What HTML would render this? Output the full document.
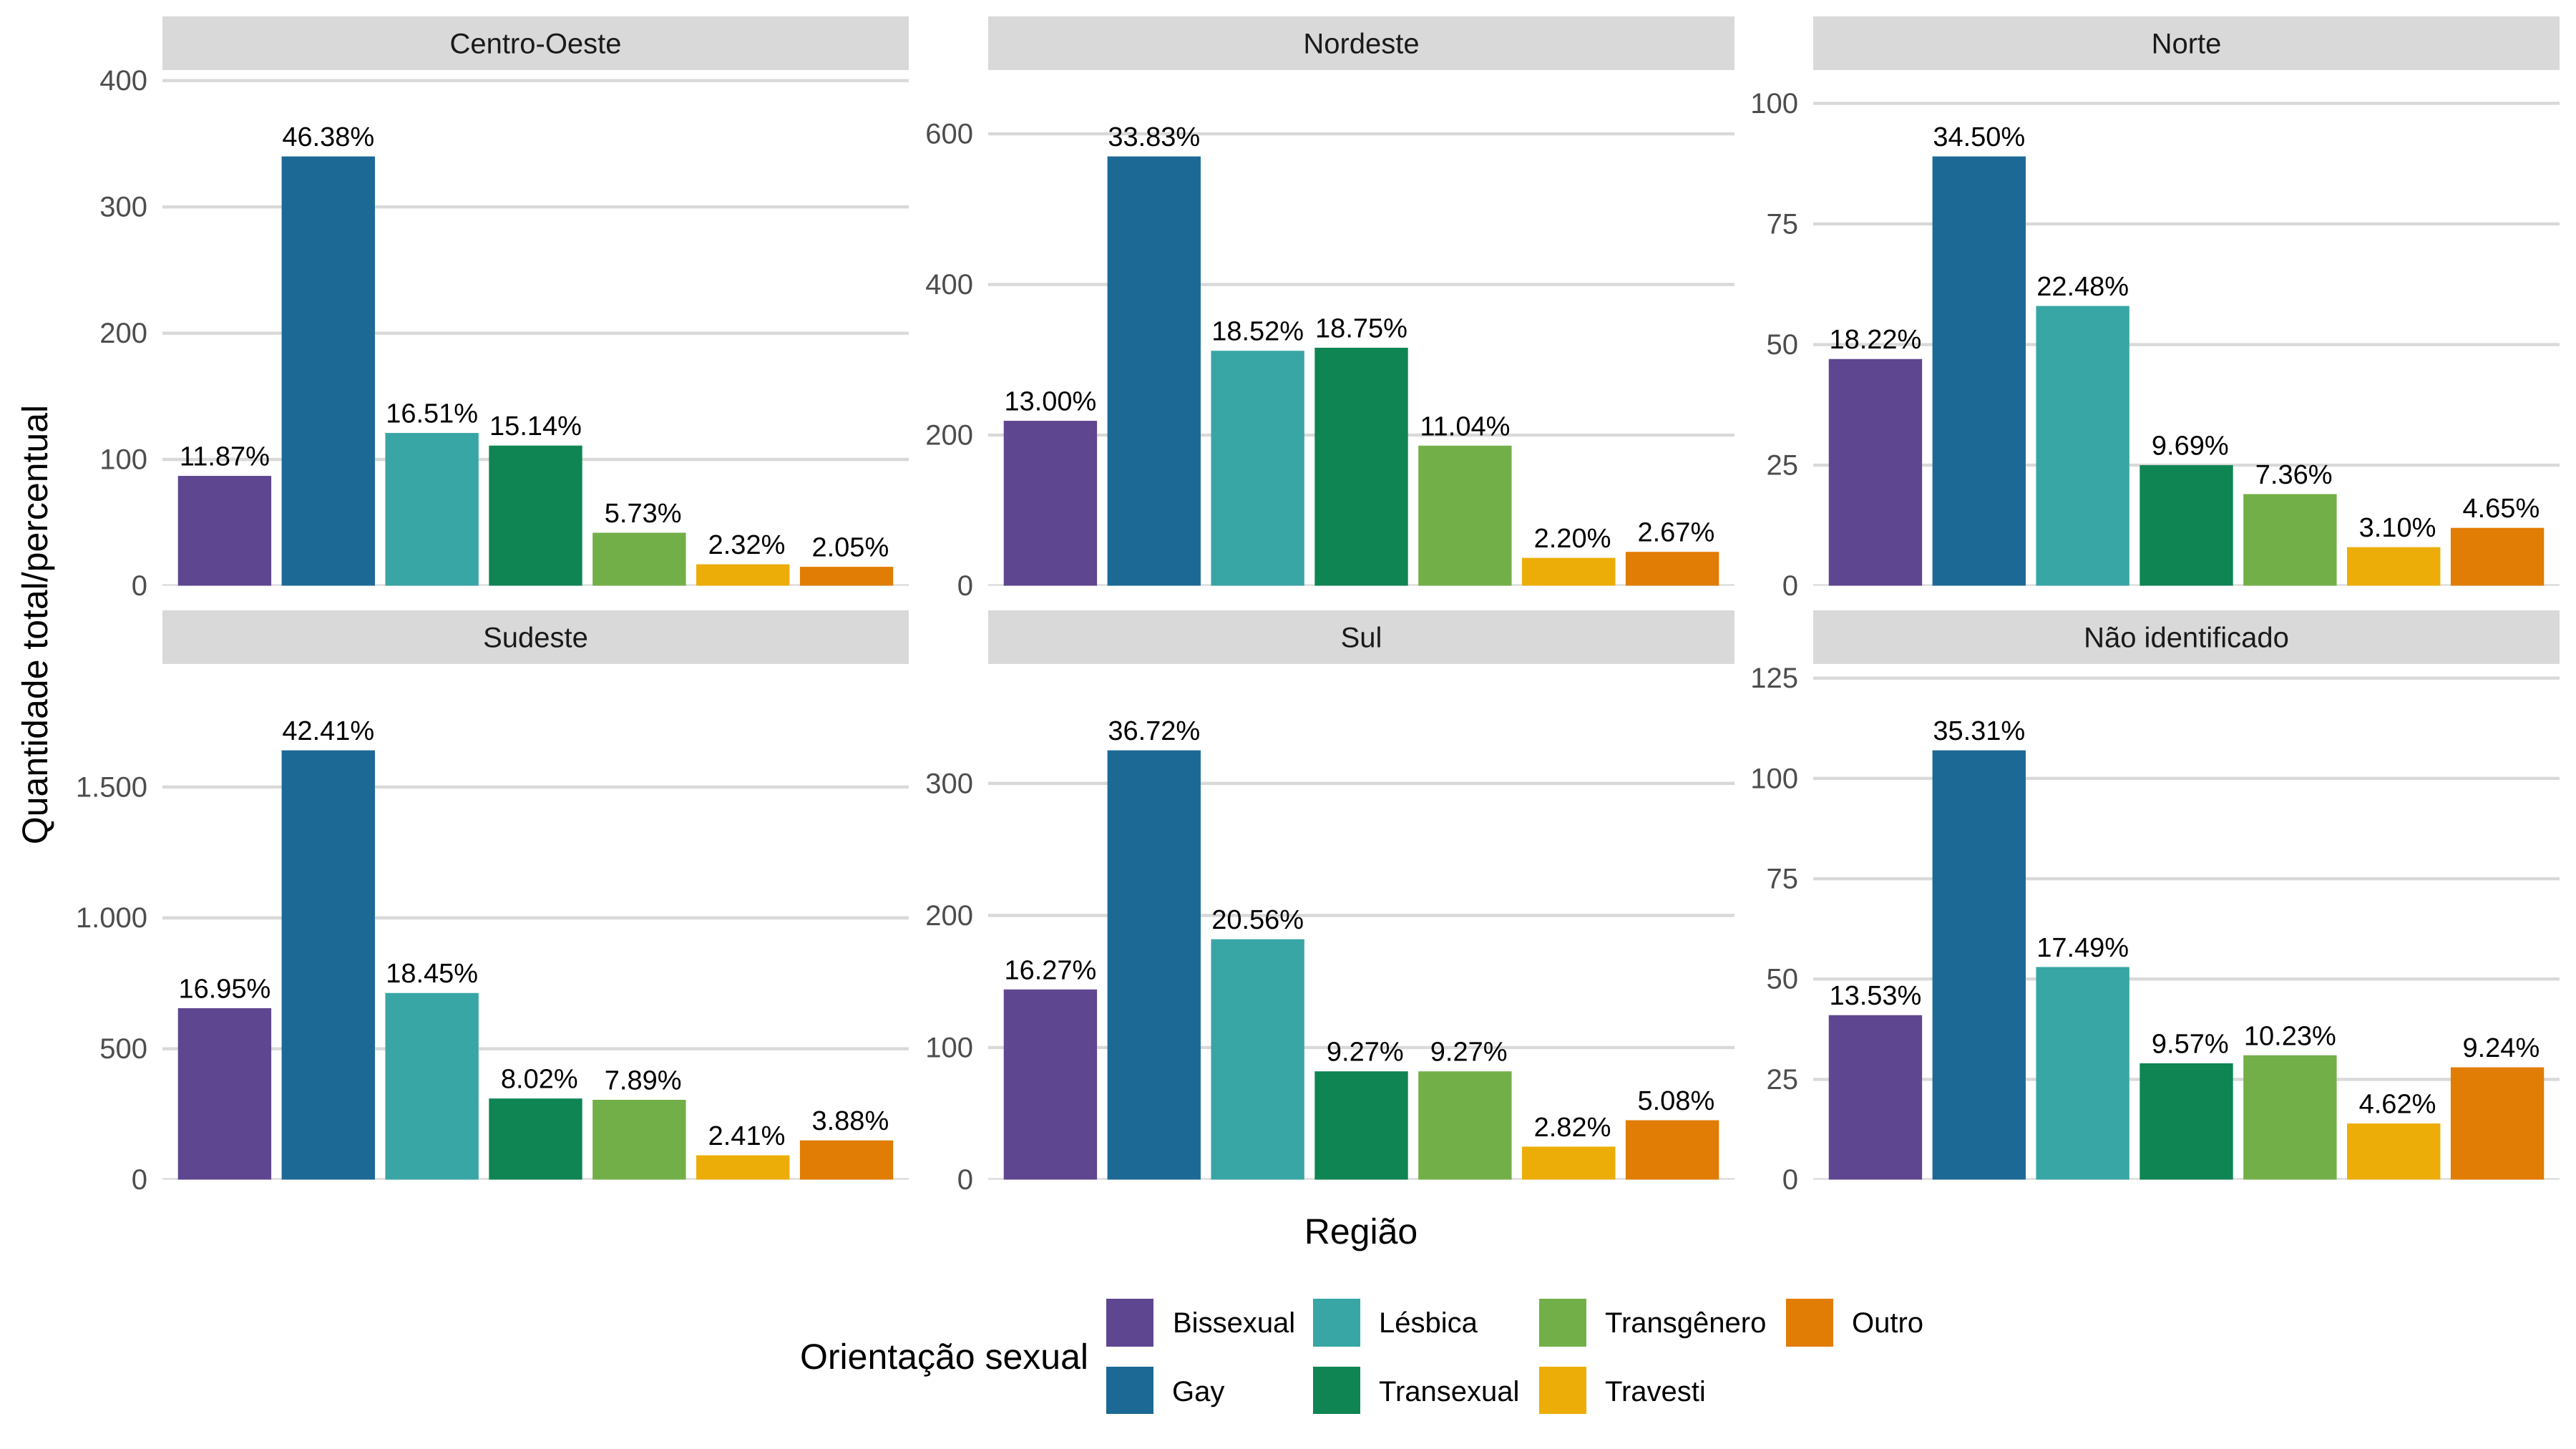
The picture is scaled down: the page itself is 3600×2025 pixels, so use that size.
<!DOCTYPE html>
<html lang="pt-BR">
<head>
<meta charset="utf-8">
<title>Quantidade total/percentual por região e orientação sexual</title>
<style>
html,body{margin:0;padding:0;background:#fff;width:3600px;height:2025px;overflow:hidden}
svg{display:block;font-family:"Liberation Sans",Arial,sans-serif;text-rendering:geometricPrecision}
.value{white-space:pre}
</style>
</head>
<body>
<svg id="chart" xmlns="http://www.w3.org/2000/svg" width="3600" height="2025" viewBox="0 0 3600 2025">
<rect x="0" y="0" width="3600" height="2025" fill="#ffffff"/>
<text transform="translate(66,873) rotate(-90)" text-anchor="middle" font-size="50" fill="#000">Quantidade total/percentual</text>
<text x="1902" y="1738" text-anchor="middle" font-size="50" fill="#000">Região</text>
<g>
<text x="1118" y="1913" font-size="50" fill="#000">Orientação sexual</text>
<rect x="1546" y="1815" width="66" height="67" fill="#5F4690"/>
<text x="1639" y="1862" font-size="40" fill="#000">Bissexual</text>
<rect x="1546" y="1910" width="66" height="66" fill="#1D6996"/>
<text x="1638" y="1958" font-size="40" fill="#000">Gay</text>
<rect x="1835" y="1815" width="66" height="67" fill="#38A6A5"/>
<text x="1927" y="1862" font-size="40" fill="#000">Lésbica</text>
<rect x="1835" y="1910" width="66" height="66" fill="#0F8554"/>
<text x="1927" y="1958" font-size="40" fill="#000">Transexual</text>
<rect x="2151" y="1815" width="66" height="67" fill="#73AF48"/>
<text x="2243" y="1862" font-size="40" fill="#000">Transgênero</text>
<rect x="2151" y="1910" width="66" height="66" fill="#EDAD08"/>
<text x="2243" y="1958" font-size="40" fill="#000">Travesti</text>
<rect x="2496" y="1815" width="66" height="67" fill="#E17C05"/>
<text x="2588" y="1862" font-size="40" fill="#000">Outro</text>
</g>
</svg>
<script>
// Chart data
const regions = ["Centro-Oeste", "Nordeste", "Norte", "Sudeste", "Sul", "Não identificado"];
const categories = ["Bissexual", "Gay", "Lésbica", "Transexual", "Transgênero", "Travesti", "Outro"];
const valuesCentroOeste = [87, 340, 121, 111, 42, 17, 15];
const valuesNordeste = [219, 570, 312, 316, 186, 37, 45];
const valuesNorte = [47, 89, 58, 25, 19, 8, 12];
const valuesSudeste = [655, 1640, 713, 310, 305, 93, 150];
const valuesSul = [144, 325, 182, 82, 82, 25, 45];
const valuesNaoIdentificado = [41, 107, 53, 29, 31, 14, 28];
const percentCentroOeste = ["11.87%", "46.38%", "16.51%", "15.14%", "5.73%", "2.32%", "2.05%"];
const percentNordeste = ["13.00%", "33.83%", "18.52%", "18.75%", "11.04%", "2.20%", "2.67%"];
const percentNorte = ["18.22%", "34.50%", "22.48%", "9.69%", "7.36%", "3.10%", "4.65%"];
const percentSudeste = ["16.95%", "42.41%", "18.45%", "8.02%", "7.89%", "2.41%", "3.88%"];
const percentSul = ["16.27%", "36.72%", "20.56%", "9.27%", "9.27%", "2.82%", "5.08%"];
const percentNaoIdentificado = ["13.53%", "35.31%", "17.49%", "9.57%", "10.23%", "4.62%", "9.24%"];
const ticksCentroOeste = [0, 100, 200, 300, 400];
const ticksNordeste = [0, 200, 400, 600];
const ticksNorte = [0, 25, 50, 75, 100];
const ticksSudeste = [0, 500, 1000, 1500];
const ticksSul = [0, 100, 200, 300];
const ticksNaoIdentificado = [0, 25, 50, 75, 100, 125];
const seriesValues = [valuesCentroOeste, valuesNordeste, valuesNorte, valuesSudeste, valuesSul, valuesNaoIdentificado];
const seriesPercents = [percentCentroOeste, percentNordeste, percentNorte, percentSudeste, percentSul, percentNaoIdentificado];
const seriesTicks = [ticksCentroOeste, ticksNordeste, ticksNorte, ticksSudeste, ticksSul, ticksNaoIdentificado];

// Layout and styles
const colors = ["#5F4690", "#1D6996", "#38A6A5", "#0F8554", "#73AF48", "#EDAD08", "#E17C05"];
const NS = "http://www.w3.org/2000/svg";
const svg = document.getElementById("chart");
const colLeft = [227, 1381, 2534];
const rowTop = [98.6, 928.6];
const panelWidth = 1043;
const panelHeight = 720;
const stripHeight = 75;
const stripGap = 0.7;
const headroom = 1.2;

function make(tag, attrs, parent) {
  const el = document.createElementNS(NS, tag);
  for (const k in attrs) el.setAttribute(k, attrs[k]);
  parent.appendChild(el);
  return el;
}
function slug(s) {
  return s.normalize("NFD").replace(/[\u0300-\u036f]/g, "").toLowerCase().replace(/[^a-z0-9]+/g, "-");
}
function formatTick(v) {
  return String(v).replace(/\B(?=(\d{3})+(?!\d))/g, ".");
}

const defs = make("defs", {}, svg);

regions.forEach(function (region, r) {
  const left = colLeft[r % 3];
  const top = rowTop[Math.floor(r / 3)];
  const bottom = top + panelHeight;
  const values = seriesValues[r];
  const percents = seriesPercents[r];
  const ticks = seriesTicks[r];
  const yMax = Math.max.apply(null, values) * headroom;
  const yScale = function (v) { return bottom - v / yMax * panelHeight; };
  const step = panelWidth / 7.2;
  const xScale = function (i) { return left + (i + 0.6) * step; };
  const barWidth = step * 0.9;
  const id = slug(region);
  const stripTop = top - stripGap - stripHeight;

  const panel = make("g", {}, svg);
  
  

  const clip = make("clipPath", { id: "clip-" + id }, defs);
  make("rect", { x: left, y: top, width: panelWidth, height: panelHeight }, clip);

  const strip = make("rect", { x: left, y: stripTop, width: panelWidth, height: stripHeight, fill: "#D9D9D9" }, panel);
  
  

  const stripLabel = make("text", { x: left + panelWidth / 2, y: stripTop + stripHeight / 2 + 14, "text-anchor": "middle", "font-size": 40, fill: "#1A1A1A" }, panel);
  
  
  stripLabel.textContent = region;

  const plot = make("g", { "clip-path": "url(#clip-" + id + ")" }, panel);
  
  

  ticks.forEach(function (t) {
    const y = yScale(t);
    const grid = make("line", { x1: left, x2: left + panelWidth, y1: y, y2: y, stroke: "#D9D9D9", "stroke-width": 4.4 }, plot);
    
    

    const label = make("text", { x: left - 21, y: y + 13.5, "text-anchor": "end", "font-size": 40, fill: "#4D4D4D" }, panel);
    
    
    label.textContent = formatTick(t);
  });

  values.forEach(function (v, i) {
    const y = yScale(v);
    const bar = make("rect", { x: xScale(i) - barWidth / 2, y: y, width: barWidth, height: bottom - y, fill: colors[i] }, plot);
    
    
  });

  values.forEach(function (v, i) {
    const text = make("text", { class: "value", x: xScale(i), y: yScale(v) - 14.5, "text-anchor": "middle", "font-size": 38, fill: "#000" }, panel);
    
    
    text.textContent = percents[i].padStart(6, " ");
  });
});
</script>
</body>
</html>
